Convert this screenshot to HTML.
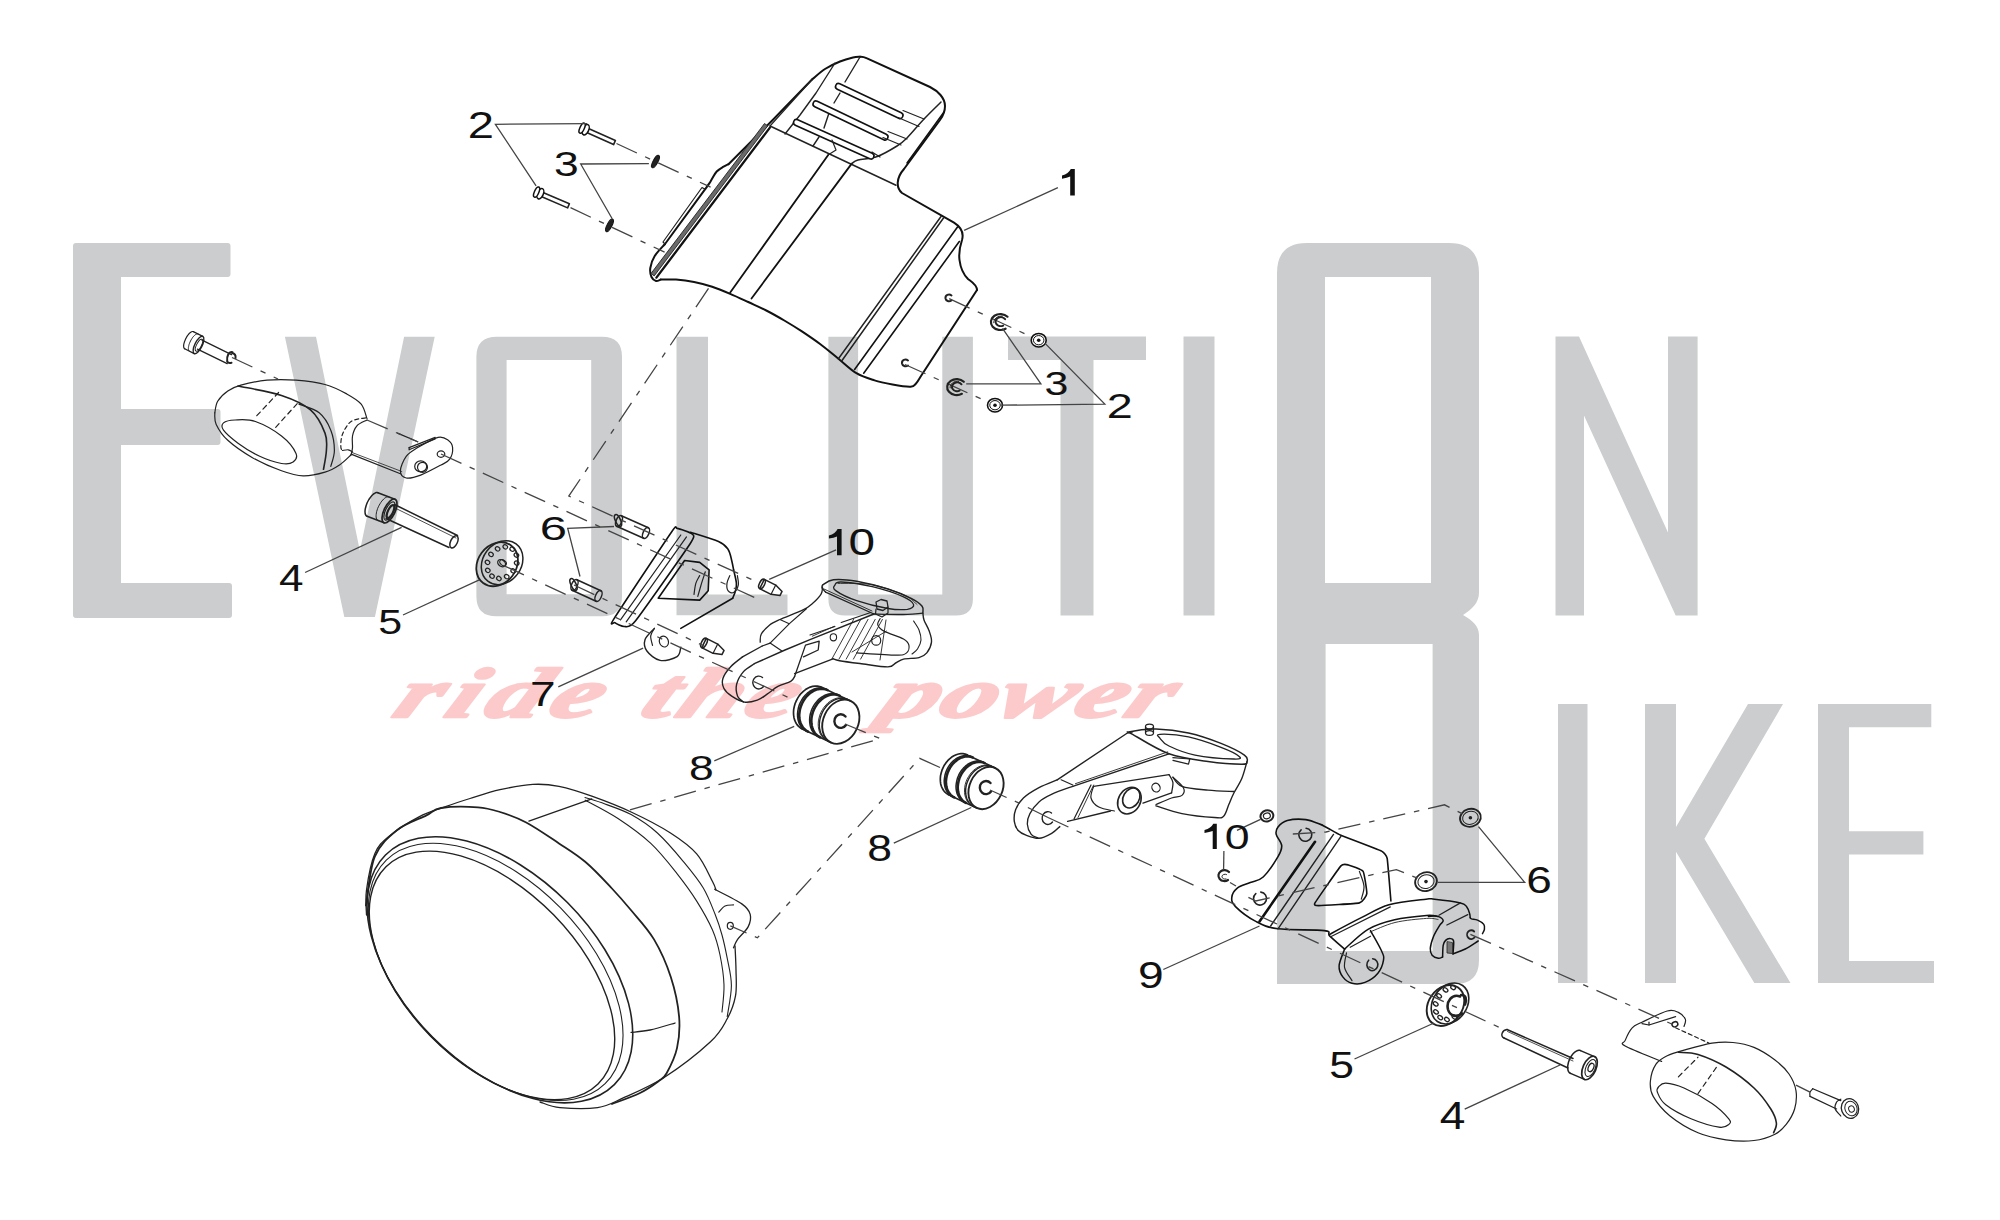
<!DOCTYPE html>
<html><head><meta charset="utf-8"><style>
html,body{margin:0;padding:0;background:#fff;width:2000px;height:1220px;overflow:hidden}
svg{display:block}
.wm{fill:#cbcdce}
.pk{font-family:"Liberation Serif",serif;font-weight:bold;font-style:italic;fill:#fccacb}
.lb{font-family:"Liberation Sans",sans-serif;font-size:36px;fill:#111}
.ln{fill:none;stroke:#111;stroke-width:2;stroke-linejoin:round;stroke-linecap:round}
.th{fill:none;stroke:#222;stroke-width:1.2;stroke-linejoin:round;stroke-linecap:round}
.ld{fill:none;stroke:#444;stroke-width:1.3}
.da{fill:none;stroke:#444;stroke-width:1.3;stroke-dasharray:22.5 9 5.5 9}
.ds{fill:none;stroke:#444;stroke-width:1.3;stroke-dasharray:22.5 9 5.5 9}
.wf{fill:#fff}
</style></head><body>
<svg width="2000" height="1220" viewBox="0 0 2000 1220">
<rect width="2000" height="1220" fill="#fff"/>
<g id="watermark" class="wm">
<!-- E -->
<path d="M73,246 Q73,243 76,243 L227.5,243 Q230.5,243 230.5,246 L230.5,274 Q230.5,277 227.5,277 L121,277 L121,409 L217.5,409 Q220.5,409 220.5,412 L220.5,442 Q220.5,445 217.5,445 L121,445 L121,583 L229,583 Q232,583 232,586 L232,615 Q232,618 229,618 L76,618 Q73,618 73,615 Z"/>
<!-- V -->
<path d="M284.9,336.7 L316,336.7 L359.9,551 L404.1,336.7 L434.7,336.7 L374.9,617.1 L344.3,617.1 Z"/>
<!-- O -->
<path fill-rule="evenodd" d="M497,336.8 L602,336.8 Q622,336.8 622,356.8 L622,596.5 Q622,616.3 602,616.3 L496.5,616.3 Q476.4,616.3 476.4,596.5 L476.4,356.8 Q476.4,336.8 497,336.8 Z M506.6,360 L506.6,594.2 L591.2,594.2 L591.2,360 Z"/>
<!-- L -->
<path d="M676.5,336.7 L708,336.7 L708,594.4 L787.5,594.4 L787.5,615.3 L676.5,615.3 Z"/>
<!-- U -->
<path d="M828.4,336.7 L858.1,336.7 L858.1,594.4 L942.3,594.4 L942.3,336.7 L972.9,336.7 L972.9,599 Q972.9,615.6 956,615.6 L845,615.6 Q828.4,615.6 828.4,599 Z"/>
<!-- T -->
<path d="M1008,336.5 L1146,336.5 L1146,360 L1093.5,360 L1093.5,615.6 L1060.5,615.6 L1060.5,360 L1008,360 Z"/>
<!-- I -->
<rect x="1183.5" y="336.5" width="31" height="279"/>
<!-- B (tall O/B) -->
<path fill-rule="evenodd" d="M1307,243 L1449,243 Q1479,243 1479,273 L1479,592.5 C1479,603 1472,609 1463,615 C1472,620 1479,626 1479,635 L1479,960 Q1479,984 1455,984 L1277,984 L1277,273 Q1277,243 1307,243 Z M1325,277 L1325,583 L1431,583 L1431,277 Z M1325.6,644 L1325.6,951 L1432.6,951 L1432.6,644 Z"/>
<!-- N -->
<path d="M1555.5,336.4 L1579,336.4 L1668,532.5 L1668,336.4 L1697.6,336.4 L1697.6,615.4 L1675.7,615.4 L1584,415.6 L1584,615.4 L1555.5,615.4 Z"/>
<!-- I -->
<rect x="1558" y="704" width="29.5" height="279"/>
<!-- K -->
<path d="M1645,704 L1676,704 L1676,826.9 L1748,704 L1783,704 L1704.4,838.7 L1790.5,983 L1754.3,983 L1676,851.8 L1676,983 L1645,983 Z"/>
<!-- E -->
<path d="M1818,704 L1931.3,704 L1931.3,727.2 L1849,727.2 L1849,831.3 L1923.4,831.3 L1923.4,854.4 L1849,854.4 L1849,961.1 L1934,961.1 L1934,983 L1818,983 Z"/>
</g>
<g class="pk" font-size="86" stroke="#fccacb" stroke-width="3" stroke-linejoin="round"><text transform="translate(390,717) scale(1.3,0.82) skewX(-17)" textLength="157" lengthAdjust="spacing">ride</text><text transform="translate(637,717) scale(1.3,0.82) skewX(-17)" textLength="117" lengthAdjust="spacing">the</text><text transform="translate(876,717) scale(1.3,0.82) skewX(-17)" textLength="222" lengthAdjust="spacing">power</text></g>
<!-- p_fender.FENDER -->
<path class="ln" d="M977,290 L921,376  C920.2,377.2 917.7,381.7 916,383.5 C914.3,385.3 914.5,386.5 910.6,386.7 C906.7,386.9 898.5,385.6 892.5,384.5 C886.5,383.4 880.5,382.3 874.5,380.4 C868.5,378.5 862.4,376.8 856.4,373.2 C850.4,369.6 844.4,363.5 838.4,358.7 C832.4,353.9 826.4,348.8 820.4,344.3 C814.4,339.8 808.3,335.7 802.3,331.7 C796.3,327.7 790.3,324 784.3,320.5 C778.3,317 772.3,313.6 766.3,310.5 C760.3,307.4 754.2,304.8 748.2,302 C742.2,299.2 736.2,296.3 730.2,293.8 C724.2,291.3 718.2,288.8 712.2,286.8 C706.2,284.8 700.1,283.2 694.1,282 C688.1,280.8 681.6,280 676,279.6 C670.4,279.2 663.2,279.6 660.6,279.6" />
<path class="ln" d="M660.6,279.6 C659.8,279.8 657.5,281.4 656,281 C654.5,280.6 652.5,279.2 651.5,277 C650.5,274.8 649.8,271.5 650.3,268 C650.8,264.5 652.2,260 654.7,256 C657.2,252 663.3,246 665,244" />
<path class="ln" d="M665,244 L705,189.3" />
<path class="ln" d="M705,189.3 C705.7,188.3 708.1,185.2 709.3,183.4 C710.5,181.6 711.1,180.3 712.3,178.3 C713.5,176.3 715,173.3 716.7,171.5 C718.4,169.7 720.6,168.4 722.6,167.2 C724.6,166 727.5,164.7 728.5,164.2" />
<path class="ln" d="M728.5,164.2 L772.7,120 L812,79.5" />
<path class="ln" d="M812,79.5 C814.2,77.8 820.3,72 825,69 C829.7,66 835.3,63.4 840,61.5 C844.7,59.6 849.7,58.3 853,57.5 C856.3,56.7 858.8,56.9 860,56.8" />
<path class="ln" d="M860,56.8 C862.5,56.6 864.5,57.2 866.5,58.2 L930,87 C938,91 945,98 945,106 C945,112 943,116 940,120 L904,169 C896,178 896,188 902,193 L954,222.6 C961,227 964,233 962,240 C960,246 958.5,252 959.5,260 C960.5,268 963,274 968,279 C972,282 977,285 977,290" />
<path class="ln" d="M944,112 L907,163" style="stroke-width:1.5"/>
<path d="M764.5,123.5 L767.7,125.9 L654.2,275.9 L651,273.5 Z" fill="#6a6a6a" stroke="#222" stroke-width="0.9"/>
<path class="ln" d="M769.9,127.6 L656.4,277.6" style="stroke-width:2.3"/>
<path class="th" d="M705,189.3 L702,187.5 L663,242 L665,244" />
<path class="th" d="M770,126 L896,185.2" style="stroke-width:1.5"/>
<path class="ln" d="M730.2,292.5 L828.2,155.1" style="stroke-width:1.8"/>
<path class="ln" d="M751.5,298.5 L851.7,163.6" style="stroke-width:1.8"/>
<path class="th" d="M851.7,163.6 C852.8,163 853.8,161.2 858,160 C862.2,158.8 870.7,158.8 877.2,156.5 C883.7,154.2 892,149.1 897,146 C902,142.9 902.5,142.5 907,138 C911.5,133.5 918.3,125 924,119 C929.7,113 938.2,104.8 941,102" style="stroke-width:1.5"/>
<path class="th" d="M860,57 L845,82" style="stroke-width:1.4"/>
<path class="th" d="M840,93 L834,103" style="stroke-width:1.4"/>
<path class="th" d="M829,113 L824,128" style="stroke-width:1.4"/>
<path class="th" d="M819,137 L813,146" style="stroke-width:1.4"/>
<path class="th" d="M835,63 L816,93 L800,115 L785,134" style="stroke-width:1.4"/>
<path class="th" d="M812,79.5 L770,126" style="stroke-width:1.2"/>
<line x1="838.5" y1="86.5" x2="900" y2="115.5" stroke="#111" stroke-width="7.5" stroke-linecap="round"/><line x1="838.5" y1="86.5" x2="900" y2="115.5" stroke="#fff" stroke-width="4.3" stroke-linecap="round"/>
<line x1="816" y1="104" x2="885" y2="137" stroke="#111" stroke-width="7.5" stroke-linecap="round"/><line x1="816" y1="104" x2="885" y2="137" stroke="#fff" stroke-width="4.3" stroke-linecap="round"/>
<line x1="796.5" y1="122.5" x2="871" y2="156" stroke="#111" stroke-width="7.5" stroke-linecap="round"/><line x1="796.5" y1="122.5" x2="871" y2="156" stroke="#fff" stroke-width="4.3" stroke-linecap="round"/>
<path class="th" d="M903,110.5 L924,119" />
<path class="th" d="M898,117.5 L919,126.5" />
<path class="th" d="M888,131.5 L907,139" />
<path class="th" d="M883,137.5 L901,145" />
<path class="th" d="M872,152 L880,157" />
<path class="th" d="M828,155 L836,150 L832,140" />
<path class="th" d="M838.4,358.7 L941.2,216.2" style="stroke-width:1.5"/>
<path class="th" d="M842,360.5 L943.5,218" style="stroke-width:1.5"/>
<path class="ln" d="M854.6,369.5 L957.5,227" style="stroke-width:1.6"/>
<path class="ln" d="M863.7,373.2 L959.3,241.5" style="stroke-width:1.6"/>
<path class="th" d="M951.5,295.5 C949,293.5 945,295 945.5,298.5 C946,301 949,302 951.5,300.5" style="stroke-width:2"/>
<path class="th" d="M908,360.5 C905.5,358.5 901.5,360 902,363.5 C902.5,366 905.5,367 908,365.5" style="stroke-width:2"/>
<!-- p_top.TOP -->
<path class="th" d="M586.655,132.587 L613.586,144.556 L615.414,140.444 L588.483,128.475 Z" fill="#fff" style="stroke-width:1.6"/><ellipse cx="585.7" cy="129.7" rx="3.0" ry="5.5" transform="rotate(24.0 585.7 129.7)" fill="#fff" stroke="#111" stroke-width="1.5"/><ellipse cx="582.1" cy="128.1" rx="2.2" ry="5.5" transform="rotate(24.0 582.1 128.1)" fill="#fff" stroke="#111" stroke-width="1.5"/>
<path class="th" d="M541.208,196.539 L567.613,207.868 L569.387,203.732 L542.982,192.404 Z" fill="#fff" style="stroke-width:1.6"/><ellipse cx="540.3" cy="193.7" rx="3.0" ry="5.5" transform="rotate(23.2 540.3 193.7)" fill="#fff" stroke="#111" stroke-width="1.5"/><ellipse cx="536.6" cy="192.1" rx="2.2" ry="5.5" transform="rotate(23.2 536.6 192.1)" fill="#fff" stroke="#111" stroke-width="1.5"/>
<ellipse cx="655.5" cy="161.5" rx="7" ry="2.4" transform="rotate(-62 655.5 161.5)" fill="#222" stroke="#111" stroke-width="1"/>
<ellipse cx="609.5" cy="225.3" rx="7" ry="2.4" transform="rotate(-62 609.5 225.3)" fill="#222" stroke="#111" stroke-width="1"/>
<path class="ds" d="M616.5,143.5 L710.6,187.2" />
<path class="ds" d="M570.5,207.6 L664.6,252.2" />
<path class="ld" d="M587.2,123.6 L495.4,124.3 L536.1,185.9" />
<path class="ld" d="M648.9,163.6 L580.7,164 L612.2,218.7" />
<path class="ds" d="M949.2,298.6 L1038.7,340.2" />
<path class="ds" d="M905,364.5 L995,405.2" />
<path class="th" d="M1007.5,316.7 A9.5,8 0 1 0 1005.6,328.7" style="stroke-width:2.2"/><path class="th" d="M1005.1,319.2 A5.2250000000000005,4.4 0 1 0 1003.2,325.6" style="stroke-width:2"/><path class="th" d="M993.8,322.8 A7.125,6.0 0 0 1 1002.3,316.2" style="stroke-width:1"/>
<path class="th" d="M963.8,381.8 A9.5,8 0 1 0 961.9,393.8" style="stroke-width:2.2"/><path class="th" d="M961.5,384.3 A5.2250000000000005,4.4 0 1 0 959.6,390.7" style="stroke-width:2"/><path class="th" d="M950.1,387.9 A7.125,6.0 0 0 1 958.6,381.3" style="stroke-width:1"/>
<ellipse cx="1038.7" cy="340.2" rx="7.5" ry="6.75" fill="#fff" stroke="#111" stroke-width="1.6"/><ellipse cx="1038.7" cy="340.2" rx="5.25" ry="4.65" fill="none" stroke="#111" stroke-width="1"/><circle cx="1038.7" cy="340.2" r="1.8" fill="#111"/>
<ellipse cx="995" cy="405.2" rx="7.5" ry="6.75" fill="#fff" stroke="#111" stroke-width="1.6"/><ellipse cx="995" cy="405.2" rx="5.25" ry="4.65" fill="none" stroke="#111" stroke-width="1"/><circle cx="995" cy="405.2" r="1.8" fill="#111"/>
<path class="ld" d="M1002.5,328.4 L1040.9,383.9 L966.2,383.9" />
<path class="ld" d="M1045.1,343.4 L1104.8,404.1 L1000.4,405.2" />
<path class="ld" d="M1057.9,187.7 L964.1,230.4" />
<!-- p_left.LEFT -->
<path class="th" d="M214.8,412.8 C215.3,410.9 215.5,404.8 217.7,401.2 C219.9,397.6 223.9,393.7 227.8,391 C231.7,388.3 234.4,387 240.9,385.2 C247.4,383.4 257.8,381 267,380.2 C276.2,379.4 286.3,379.5 296,380.2 C305.7,380.9 316.6,382.2 325,384.5 C333.4,386.8 340.7,390.6 346.7,393.9 C352.7,397.2 357.8,400 361.2,404.1 C364.6,408.2 366,416.2 367,418.6" />
<path class="th" d="M351.1,454.8 C349.2,456.5 343.9,462.1 339.5,465 C335.1,467.9 331.1,470.4 325,472.2 C318.9,474 310.4,476.1 303.2,475.9 C295.9,475.7 289.9,473.8 281.5,470.8 C273.1,467.8 261.4,462.8 252.5,457.7 C243.6,452.6 233.9,445.9 227.8,440.3 C221.8,434.8 218.4,429 216.2,424.4 C214,419.8 215,414.7 214.8,412.8" />
<path class="th" d="M397.5,433.1 L417.8,441.8" />
<path class="th" d="M351.1,454.1 L400.4,473.7" />
<path class="th" d="M352.5,452.7 L401.8,471.5" style="stroke-width:0.8"/>
<path class="th" d="M367,420 C365.3,421 359.3,423.1 356.9,425.8 C354.5,428.5 353.2,432.4 352.5,436 C351.8,439.6 352.7,444.5 352.5,447.6 C352.3,450.7 351.3,453.6 351.1,454.8" />
<path class="th" d="M365.6,417.9 C363.2,418.5 355,418.7 351.1,421.5 C347.2,424.3 344.1,430.1 342.4,434.5 C340.7,438.9 340.7,444.9 340.9,447.6 C341.1,450.3 343.3,450 343.8,450.5" style="stroke-dasharray:4 3"/>
<path class="th" d="M342.4,450.5 C343.4,450.4 346.5,449.6 348.2,449.8 C349.9,450 351.8,451.5 352.5,451.9" />
<path class="th" d="M223.5,422.9 C225.4,421.2 229.8,420.2 235.1,420 C240.4,419.8 247.7,418.8 255.4,421.5 C263.1,424.2 274.7,430.7 281.5,436 C288.3,441.3 294.1,449 296,453.4 C297.9,457.8 295.5,460.4 293.1,462.1 C290.7,463.8 287.1,464.5 281.5,463.5 C275.9,462.5 266.9,459.7 259.7,456.3 C252.4,452.9 244,447.6 238,443.2 C232,438.8 225.9,433.6 223.5,430.2 C221.1,426.8 221.6,424.6 223.5,422.9 Z" />
<path class="th" d="M238,386 C245.2,387.6 269.4,391.4 281.5,395.4 C293.6,399.4 303.2,403.6 310.5,409.9 C317.8,416.2 322.4,426.3 325,433.1 C327.6,439.9 326.6,444.5 326.4,450.5 C326.1,456.5 324,466.2 323.5,469.3" style="stroke-width:1.6"/>
<path class="th" d="M298.9,404.1 C302.3,405.6 313.9,408.5 319.2,412.8 C324.5,417.1 328.3,423.9 330.8,430.2 C333.3,436.5 334.4,444.5 334.4,450.5 C334.4,456.5 331.4,463.8 330.8,466.4" />
<path class="th" d="M256.8,415.7 L278.6,392.5" style="stroke-dasharray:5 4"/>
<path class="th" d="M275.7,427.3 L297.4,403.4" style="stroke-dasharray:5 4"/>
<path class="th" d="M400.4,470.8 C400.4,467.2 403.3,460.2 406.2,456.3 C409.1,452.4 412.5,450.8 417.8,447.6 C423.1,444.5 433,438.6 438.1,437.4 C443.2,436.2 445.8,438.6 448.2,440.3 C450.6,442 452.4,444.5 452.6,447.6 C452.9,450.8 451.6,456.3 449.7,459.2 C447.8,462.1 445.8,462.4 441,465 C436.2,467.6 426.5,472.9 420.7,475.1 C414.9,477.3 409.6,478.7 406.2,478 C402.8,477.3 400.4,474.4 400.4,470.8 Z" />
<path class="th" d="M409.1,447.6 L409.1,449.8 L435.2,438.9" />
<path class="th" d="M409.1,447.6 L435.2,437.4" />
<ellipse cx="420.7" cy="466.4" rx="6" ry="5.5" class="th"/>
<ellipse cx="422.5" cy="467.3" rx="5" ry="5" class="th"/>
<ellipse cx="441" cy="454.1" rx="3.8" ry="3.2" class="th"/>
<path class="th" d="M189.4,351.2 L189.1,350.9 L188.8,350.5 L188.5,349.9 L188.4,349.2 L188.4,348.4 L188.4,347.5 L188.6,346.5 L188.8,345.5 L189.1,344.4 L189.5,343.3 L190,342.1 L190.5,341 L191.1,339.9 L191.8,338.8 L192.4,337.8 L193.1,336.9 L193.8,336.1 L194.5,335.4 L195.2,334.8 L195.9,334.4 L196.5,334.1 L197.1,333.9 L197.6,333.9 L198.1,334" style="stroke-width:1.0"/><path class="th" d="M184.7,348.8 L184.3,348.5 L184,348.1 L183.8,347.5 L183.7,346.8 L183.6,346 L183.7,345.1 L183.8,344.1 L184.1,343.1 L184.4,342 L184.8,340.9 L185.3,339.7 L185.8,338.6 L186.4,337.5 L187,336.4 L187.7,335.4 L188.4,334.5 L189.1,333.7 L189.8,333 L190.5,332.4 L191.1,332 L191.7,331.7 L192.3,331.5 L192.8,331.5 L193.3,331.6" style="stroke-width:1.2"/><path class="th" d="M194.2,353.6 L184.7,348.8 M202.8,336.4 L193.3,331.6" style="stroke-width:1.2"/><ellipse class="th" cx="198.5" cy="345.0" rx="3.6" ry="9.6" transform="rotate(26.6 198.5 345.0)" style="stroke-width:1.4"/>
<ellipse class="th" cx="199.0" cy="345.2" rx="2.4" ry="6.6" transform="rotate(26.6 199.0 345.2)" style="stroke-width:1.0"/>
<path class="th" d="M202,340.2 L231.5,354.6" style="stroke-width:1.3"/>
<path class="th" d="M197.5,349.2 L227.2,363.6" style="stroke-width:1.3"/>
<path class="th" d="M232.5,352.2 C229,351 226.5,356 227.2,361.5 C228,363 230,363.2 231.5,362.8" style="stroke-width:2"/>
<path class="th" d="M232,353 C235,353.5 235.8,356 235.5,358" style="stroke-width:2"/>
<!-- p_center.CENTER -->
<path class="th" d="M378.1,520.5 L377.5,520.2 L377,519.6 L376.6,518.9 L376.3,518 L376.1,516.9 L376.1,515.7 L376.2,514.4 L376.4,512.9 L376.7,511.4 L377.2,509.9 L377.7,508.3 L378.4,506.8 L379.2,505.2 L380,503.8 L380.9,502.4 L381.8,501.1 L382.8,500 L383.7,499 L384.7,498.2 L385.7,497.5 L386.6,497.1 L387.5,496.8 L388.3,496.8 L389,496.9" style="stroke-width:1.0"/><path class="th" d="M367.1,516.3 L366.4,515.9 L365.9,515.4 L365.5,514.7 L365.2,513.7 L365.1,512.7 L365,511.5 L365.1,510.1 L365.3,508.7 L365.7,507.2 L366.1,505.7 L366.7,504.1 L367.3,502.5 L368.1,501 L368.9,499.5 L369.8,498.2 L370.8,496.9 L371.7,495.7 L372.7,494.8 L373.7,493.9 L374.6,493.3 L375.5,492.8 L376.4,492.6 L377.2,492.5 L377.9,492.7" style="stroke-width:1.5"/><path class="th" d="M384.1,522.8 L367.1,516.3 M394.9,499.2 L377.9,492.7" style="stroke-width:1.5"/><ellipse class="th" cx="389.5" cy="511.0" rx="5.5" ry="13.0" transform="rotate(25.5 389.5 511.0)" style="stroke-width:1.7"/>
<ellipse class="th" cx="389.5" cy="511.0" rx="4.0" ry="10.0" transform="rotate(25.5 389.5 511.0)" style="stroke-width:1.2"/>
<ellipse class="th" cx="390.5" cy="511.5" rx="2.6" ry="7.0" transform="rotate(25.5 390.5 511.5)" style="stroke-width:2.2"/>
<path class="th" d="M394.5,504.5 L457.5,535.5" style="stroke-width:1.5"/>
<path class="th" d="M394,507.5 L456,538" style="stroke-width:0.8"/>
<path class="th" d="M386,518.5 L449,547.5" style="stroke-width:1.4"/>
<ellipse class="th" cx="454.0" cy="541.8" rx="3.4" ry="6.6" transform="rotate(25.5 454.0 541.8)" style="stroke-width:1.5"/>
<ellipse class="th" cx="497.1" cy="564.2" rx="23.4" ry="19.2" transform="rotate(-53.3 497.1 564.2)" style="stroke-width:1.8"/>
<ellipse class="th" cx="502.1" cy="562.7" rx="23.4" ry="19.2" transform="rotate(-53.3 502.1 562.7)" style="stroke-width:1.5" fill="#fff"/>
<ellipse class="th" cx="512.2" cy="549.2" rx="2.0" ry="2.4" transform="rotate(-53.3 512.2 549.2)" style="stroke-width:1.2"/>
<ellipse class="th" cx="516.4" cy="555.1" rx="2.0" ry="2.4" transform="rotate(-53.3 516.4 555.1)" style="stroke-width:1.2"/>
<ellipse class="th" cx="516.7" cy="563.1" rx="2.0" ry="2.4" transform="rotate(-53.3 516.7 563.1)" style="stroke-width:1.2"/>
<ellipse class="th" cx="513.2" cy="571.0" rx="2.0" ry="2.4" transform="rotate(-53.3 513.2 571.0)" style="stroke-width:1.2"/>
<ellipse class="th" cx="506.7" cy="576.6" rx="2.0" ry="2.4" transform="rotate(-53.3 506.7 576.6)" style="stroke-width:1.2"/>
<ellipse class="th" cx="498.9" cy="578.5" rx="2.0" ry="2.4" transform="rotate(-53.3 498.9 578.5)" style="stroke-width:1.2"/>
<ellipse class="th" cx="492.0" cy="576.2" rx="2.0" ry="2.4" transform="rotate(-53.3 492.0 576.2)" style="stroke-width:1.2"/>
<ellipse class="th" cx="487.8" cy="570.3" rx="2.0" ry="2.4" transform="rotate(-53.3 487.8 570.3)" style="stroke-width:1.2"/>
<ellipse class="th" cx="487.5" cy="562.3" rx="2.0" ry="2.4" transform="rotate(-53.3 487.5 562.3)" style="stroke-width:1.2"/>
<ellipse class="th" cx="491.0" cy="554.4" rx="2.0" ry="2.4" transform="rotate(-53.3 491.0 554.4)" style="stroke-width:1.2"/>
<ellipse class="th" cx="497.6" cy="548.8" rx="2.0" ry="2.4" transform="rotate(-53.3 497.6 548.8)" style="stroke-width:1.2"/>
<ellipse class="th" cx="505.3" cy="546.8" rx="2.0" ry="2.4" transform="rotate(-53.3 505.3 546.8)" style="stroke-width:1.2"/>
<ellipse class="th" cx="501.6" cy="563.2" rx="3.2" ry="4.2" transform="rotate(-53.3 501.6 563.2)" style="stroke-width:1.3"/>
<ellipse class="th" cx="503.1" cy="562.7" rx="2.6" ry="3.6" transform="rotate(-53.3 503.1 562.7)" style="stroke-width:1"/>
<ellipse class="th" cx="619.0" cy="521.0" rx="5.8" ry="2.9" transform="rotate(114.0 619.0 521.0)" style="stroke-width:1.5"/><path class="th" d="M616.644,526.3 L643.644,538.3 M621.356,515.7 L648.356,527.7" style="stroke-width:1.5"/><ellipse class="th" cx="646.0" cy="533.0" rx="5.8" ry="2.9" transform="rotate(114.0 646.0 533.0)" style="stroke-width:1.5"/>
<ellipse class="th" cx="618.0" cy="520.5" rx="2.5" ry="6.4" transform="rotate(-25.0 618.0 520.5)" style="stroke-width:1.6"/>
<ellipse class="th" cx="574.5" cy="585.0" rx="5.8" ry="2.9" transform="rotate(114.6 574.5 585.0)" style="stroke-width:1.5"/><path class="th" d="M572.083,590.273 L596.083,601.273 M576.917,579.727 L600.917,590.727" style="stroke-width:1.5"/><ellipse class="th" cx="598.5" cy="596.0" rx="5.8" ry="2.9" transform="rotate(114.6 598.5 596.0)" style="stroke-width:1.5"/>
<ellipse class="th" cx="573.5" cy="584.5" rx="2.5" ry="6.4" transform="rotate(-25.0 573.5 584.5)" style="stroke-width:1.6"/>
<path class="th" d="M759.674,588.651 L771.074,594.351 L779.954,595.593 L782.046,591.407 L775.726,585.049 L764.326,579.349 Z" style="stroke-width:1.5"/><ellipse class="th" cx="762.0" cy="584.0" rx="5.2" ry="2.6" transform="rotate(116.6 762.0 584.0)" style="stroke-width:1.5"/><path class="th" d="M771.074,594.351 L775.726,585.049"/>
<path class="th" d="M701.674,647.651 L713.074,653.351 L721.954,654.593 L724.046,650.407 L717.726,644.049 L706.326,638.349 Z" style="stroke-width:1.5"/><ellipse class="th" cx="704.0" cy="643.0" rx="5.2" ry="2.6" transform="rotate(116.6 704.0 643.0)" style="stroke-width:1.5"/><path class="th" d="M713.074,653.351 L717.726,644.049"/>
<path class="ln" d="M677.1,528.4 C679.2,528.6 690.8,532.6 692.1,534.1 C693.4,535.6 695.9,534.8 690.3,543.5 C684.6,552.2 642.2,612.5 635.6,620.8 C629,629.1 626.4,626.3 624.3,626.5 C622.2,626.7 615.8,623.5 614.8,622.7 C613.8,621.9 608.2,627.9 613.9,618.9 C619.6,609.9 665.1,541.2 671.4,532.2 C677.7,523.2 675,528.2 677.1,528.4 Z" style="stroke-width:1.6"/>
<path class="th" d="M680.8,535 L620.5,619.9" />
<path class="th" d="M686.5,536.9 L626.2,621.8" />
<path class="ln" d="M690.3,532.2 C695,533.8 712.2,538.8 718.5,541.6 C724.8,544.4 725.8,546.1 728,549.2 C730.2,552.4 730.8,557 731.7,560.5 C732.6,564 733.3,568.3 733.6,569.9" style="stroke-width:1.6"/>
<path class="ln" d="M733.6,569.9 C734.1,572.1 736.1,579.6 736.4,583.1 C736.7,586.6 736.1,588.2 735.5,590.7 C734.9,593.2 733.2,597 732.7,598.2" style="stroke-width:1.6"/>
<path class="ln" d="M732.7,598.2 L680.8,628.4" style="stroke-width:1.6"/>
<path class="th" d="M729.8,575.6 C729.3,576.9 727.3,580.6 727,583.1 C726.7,585.6 726.9,589.1 728,590.7 C729.1,592.3 731.9,593.5 733.6,592.5 C735.3,591.5 737.7,587.8 738.3,585 C738.9,582.2 737.5,577.2 737.4,575.6" />
<path class="ln" d="M684.6,560.5 L658.2,598.2 L699.7,600.1 L708.2,590.7 L709.1,569.9 L699.7,562.4 Z" style="stroke-width:1.6"/>
<path class="th" d="M699.7,575.6 C699.1,576.9 696.9,580 695.9,583.1 C694.9,586.2 694.3,592.5 694,594.4" />
<path class="th" d="M705.3,571.8 C704.7,573.7 702.9,579 701.6,583.1 C700.4,587.2 698.4,594.1 697.8,596.3" />
<path class="th" d="M654.4,628.4 C652.8,630.3 646.2,635.9 645,639.7 C643.8,643.5 644.4,647.5 646.9,651 C649.4,654.5 655.1,659.4 660.1,660.4 C665.1,661.4 673.7,658.9 677.1,656.7 C680.5,654.5 680.2,648.8 680.8,647.2" style="stroke-width:1.4"/>
<path class="th" d="M654.4,628.4 C653.8,629.6 651,633.1 650.7,635.9 C650.4,638.7 652.2,643.7 652.5,645.3" />
<ellipse class="th" cx="663.9" cy="641.6" rx="4.5" ry="5.5" transform="rotate(-20.0 663.9 641.6)" />
<!-- p_clamps.CLAMPS -->
<path class="th" d="M742.5,656.9 C740.5,658.5 734,663.1 730.7,666.7 C727.4,670.3 724,674.9 722.9,678.5 C721.8,682.1 722.3,685.3 723.8,688.3 C725.3,691.2 728.2,693.9 731.7,696.2 C735.2,698.5 740.2,701.5 744.5,702.1 C748.8,702.8 753.5,701.4 757.3,700.1 C761.1,698.8 763.7,696.5 767.1,694.2 C770.5,691.9 774,688.5 777.9,686.4 C781.8,684.3 787.9,683 790.7,681.4 C793.5,679.8 794,677.3 794.6,676.5" style="stroke-width:1.4"/>
<path class="th" d="M754.3,663.7 C752.5,665 746.5,668.2 743.5,671.6 C740.5,675 737.6,680.3 736.6,684.4 C735.6,688.5 736.5,693.2 737.6,696.2 C738.8,699.2 742.5,701.1 743.5,702.1" style="stroke-width:1.4"/>
<path class="th" d="M762.5,677.5 A6,6.4 0 1 0 763.5,686.5" style="stroke-width:1.4"/>
<path class="th" d="M742.5,656.9 L762.2,646" style="stroke-width:1.3"/>
<path class="th" d="M754.3,663.7 L785,650 L810,639.6 L873.9,614" style="stroke-width:1.4"/>
<path class="th" d="M762.2,646 L770.1,643.1" style="stroke-width:1.3"/>
<path class="th" d="M770.1,643.1 L781.9,651" style="stroke-width:1.2"/>
<path class="th" d="M810,635 L834.9,626.4" style="stroke-width:1.1"/>
<path class="th" d="M841.2,622.5 L870.7,612.4" style="stroke-width:1.1"/>
<path class="th" d="M812.3,636.2 L834,626.4" style="stroke-width:0.9"/>
<path class="th" d="M760.2,642.1 C760.4,640.8 759.7,637 761.2,634.2 C762.7,631.4 766,627.9 769.1,625.4 C772.2,622.9 774.2,622.1 779.9,619.5 C785.6,616.9 797.9,612.5 803.5,609.7 C809.1,606.9 810.3,605.4 813.3,602.8 C816.2,600.2 819.7,596.5 821.2,593.9 C822.7,591.3 822.3,588.1 822.5,587" style="stroke-width:1.3"/>
<path class="th" d="M770.1,643.1 L789.7,623.4 L806.4,608.7" style="stroke-width:1.2"/>
<path class="th" d="M779.9,619.5 L788.7,623.4" style="stroke-width:1.1"/>
<path class="th" d="M794.6,676.5 L805.5,645.1 L819.2,641.1 L818.2,650 L803.5,656.9" style="stroke-width:1.3"/>
<path class="th" d="M794.6,673.6 L833,658.8" style="stroke-width:1.4"/>
<path class="th" d="M822.5,585.1 C824.3,584.2 827.7,580.4 833.4,579.7 C839.1,579.1 847.6,579.7 856.7,581.2 C865.8,582.8 878.8,586.1 887.9,589 C897,591.9 905.5,595.5 911.2,598.4 C916.9,601.3 920.2,603.9 922.1,606.2 C924,608.5 922.8,611.4 922.9,612.4" style="stroke-width:1.5"/>
<path class="th" d="M822.5,585.1 C822.4,585.6 821.5,586.8 822,588 C822.5,589.2 825,591.4 825.6,592.1" style="stroke-width:1.3"/>
<path class="th" d="M825.6,592.1 L873.9,614" style="stroke-width:1.3"/>
<path class="th" d="M823.5,588.8 L872,611" style="stroke-width:0.9"/>
<path class="th" d="M873.9,614 C878.2,614.1 891.8,614.6 900,614.5 C908.2,614.4 919.1,613.4 922.9,613.2" style="stroke-width:1.3"/>
<path class="th" d="M834.9,585.1 C835.8,583.7 835,581.7 841.2,582 C847.4,582.3 861.9,584.2 872.3,586.7 C882.7,589.2 896.6,593.8 903.5,596.8 C910.4,599.8 913,602.5 913.6,604.6 C914.2,606.7 911.7,608.6 907.4,609.3 C903.1,609.9 896.3,609.9 887.9,608.5 C879.5,607.1 865.4,603.7 856.7,600.7 C848,597.7 839.3,593.2 835.7,590.6 C832.1,588 834,586.5 834.9,585.1 Z" style="stroke-width:1.3"/>
<path class="th" d="M838,583.5 C843.7,583.7 861.1,582.7 872.3,584.7 C883.5,586.7 897.5,592.2 905,595.5 C912.5,598.8 915,603.1 917,604.6" style="stroke-width:0.8"/>
<path class="th" d="M876,602 L881,599.5 L887,601 L888,607 L883,610.5 L877,609 Z" style="stroke-width:1.3"/>
<path class="th" d="M876,609 L875.5,614 L882,617 L888,613 L888,607" style="stroke-width:1.2"/>
<path class="th" d="M922.9,613.2 C923.1,614.3 923,617 924,620 C925,623 928,627.4 929.2,631.1 C930.5,634.8 931.9,638.4 931.5,642 C931.1,645.6 928.9,650.3 926.8,652.9 C924.7,655.5 922.9,656.6 919,657.6 C915.1,658.6 907.4,658.2 903.5,659.1 C899.6,660 898.3,661.7 895.7,663 C893.1,664.3 893.9,666.8 887.9,666.9 C881.9,667 868,664.5 860,663.5 C852,662.5 844.1,661.5 839.6,660.7 C835.1,659.9 834.1,659.1 833,658.8" style="stroke-width:1.4"/>
<path class="th" d="M880.1,618.6 C879.7,619.6 877.1,622.7 877.8,624.8 C878.4,626.9 879.7,628.8 884,631.1 C888.3,633.5 899.4,636.6 903.5,638.9 C907.6,641.2 908.4,642.8 908.9,645.1 C909.4,647.4 908.8,651.2 906.6,652.9 C904.4,654.6 904,655.2 895.7,655.2 C887.4,655.2 863.2,653.3 856.7,652.9" style="stroke-width:1.2"/>
<path class="th" d="M913.6,621 C914.5,622.5 917.8,626.8 919,630 C920.2,633.2 921.2,636.8 921,640 C920.8,643.2 919,646.7 917.5,649 C916,651.3 912.9,653.2 912,654" style="stroke-width:1.1"/>
<path class="th" d="M852,652 L886.3,631.1" style="stroke-width:0.9"/>
<path class="th" d="M886,620 L880,660" style="stroke-width:0.9"/>
<path class="th" d="M853.6,619.4 L831.8,659.1" style="stroke-width:0.9"/>
<path class="th" d="M860.8,619.4 L839,659.1" style="stroke-width:0.9"/>
<path class="th" d="M868,619.4 L846.2,659.1" style="stroke-width:0.9"/>
<path class="th" d="M875.2,619.4 L853.4,659.1" style="stroke-width:0.9"/>
<path class="th" d="M882.4,619.4 L860.6,659.1" style="stroke-width:0.9"/>
<ellipse class="th" cx="833.4" cy="637.3" rx="3.2" ry="3.6" transform="rotate(0.0 833.4 637.3)" style="stroke-width:1.1"/>
<ellipse class="th" cx="876.2" cy="640.4" rx="4.5" ry="4.8" transform="rotate(0.0 876.2 640.4)" style="stroke-width:1.2"/>
<path class="th" d="M828.2,741.2 L826.2,740 L824.4,738.5 L822.9,736.7 L821.6,734.7 L820.5,732.3 L819.8,729.8 L819.4,727.1 L819.3,724.3 L819.6,721.4 L820.1,718.5 L821,715.7 L822.1,712.9 L823.5,710.2 L825.2,707.8 L827,705.5 L829.1,703.5 L831.3,701.8 L833.6,700.4 L836,699.3 L838.5,698.6 L840.9,698.3 L843.3,698.3 L845.5,698.7 L847.7,699.5" style="stroke-width:1.4"/><path class="th" d="M827,740.6 L825,739.5 L823.3,738 L821.7,736.2 L820.4,734.1 L819.4,731.8 L818.7,729.3 L818.3,726.6 L818.2,723.8 L818.4,720.9 L819,718 L819.8,715.1 L820.9,712.4 L822.4,709.7 L824,707.2 L825.9,705 L827.9,702.9 L830.2,701.2 L832.5,699.8 L834.9,698.8 L837.3,698 L839.7,697.7 L842.1,697.8 L844.4,698.2 L846.5,699" style="stroke-width:0.9"/><path class="th" d="M820.1,737.4 L818.2,736.2 L816.4,734.8 L814.8,733 L813.5,730.9 L812.5,728.6 L811.8,726 L811.4,723.3 L811.3,720.5 L811.5,717.7 L812.1,714.8 L812.9,711.9 L814.1,709.1 L815.5,706.5 L817.1,704 L819,701.7 L821.1,699.7 L823.3,698 L825.6,696.6 L828,695.5 L830.4,694.8 L832.9,694.5 L835.2,694.5 L837.5,694.9 L839.7,695.7" style="stroke-width:2.6"/><path class="th" d="M818.4,736.6 L816.4,735.4 L814.6,733.9 L813.1,732.2 L811.8,730.1 L810.8,727.7 L810.1,725.2 L809.7,722.5 L809.6,719.7 L809.8,716.8 L810.3,714 L811.2,711.1 L812.3,708.3 L813.7,705.7 L815.4,703.2 L817.3,700.9 L819.3,698.9 L821.6,697.2 L823.9,695.8 L826.3,694.7 L828.7,694 L831.1,693.7 L833.5,693.7 L835.8,694.1 L837.9,694.9" style="stroke-width:1.5"/><path class="th" d="M808.1,731.7 L806.1,730.6 L804.3,729.1 L802.8,727.3 L801.5,725.2 L800.5,722.9 L799.7,720.4 L799.3,717.7 L799.2,714.9 L799.5,712 L800,709.1 L800.9,706.2 L802,703.5 L803.4,700.8 L805.1,698.3 L806.9,696 L809,694 L811.2,692.3 L813.5,690.9 L815.9,689.8 L818.4,689.1 L820.8,688.8 L823.2,688.9 L825.5,689.3 L827.6,690.1" style="stroke-width:2.6"/><path class="th" d="M806.4,730.9 L804.4,729.8 L802.6,728.3 L801,726.5 L799.7,724.4 L798.7,722.1 L798,719.5 L797.6,716.9 L797.5,714.1 L797.8,711.2 L798.3,708.3 L799.1,705.4 L800.3,702.6 L801.7,700 L803.3,697.5 L805.2,695.2 L807.3,693.2 L809.5,691.5 L811.8,690.1 L814.2,689 L816.7,688.3 L819.1,688 L821.4,688 L823.7,688.5 L825.9,689.3" style="stroke-width:1.5"/><path class="th" d="M802.3,729 L800.4,727.9 L798.6,726.4 L797,724.6 L795.7,722.5 L794.7,720.2 L794,717.7 L793.6,715 L793.5,712.2 L793.7,709.3 L794.3,706.4 L795.1,703.5 L796.3,700.8 L797.7,698.1 L799.3,695.6 L801.2,693.3 L803.3,691.3 L805.5,689.6 L807.8,688.2 L810.2,687.1 L812.6,686.4 L815.1,686.1 L817.4,686.2 L819.7,686.6 L821.9,687.4" style="stroke-width:1.7"/><path class="th" d="M831.0,742.5 L802.3,729.0 M850.6,700.9 L821.9,687.4" style="stroke-width:1.7"/><ellipse class="th" cx="840.8" cy="721.7" rx="17.5" ry="23.0" transform="rotate(25.0 840.8 721.7)" style="stroke-width:1.9"/>
<path class="th" d="M845.5,716.5 A6.4,6.8 0 1 0 846,725" style="stroke-width:2.4"/>
<path class="th" d="M973.9,806.6 L972,805.5 L970.3,804.1 L968.9,802.4 L967.6,800.4 L966.7,798.2 L966,795.8 L965.7,793.2 L965.6,790.6 L965.8,787.8 L966.3,785.1 L967.2,782.3 L968.3,779.7 L969.6,777.1 L971.2,774.7 L973,772.6 L974.9,770.6 L977,769 L979.2,767.6 L981.5,766.6 L983.8,765.9 L986.1,765.6 L988.3,765.6 L990.5,766 L992.5,766.8" style="stroke-width:1.4"/><path class="th" d="M972.7,806.1 L970.9,805 L969.2,803.6 L967.7,801.9 L966.5,799.9 L965.6,797.7 L964.9,795.3 L964.5,792.7 L964.5,790 L964.7,787.3 L965.2,784.5 L966,781.8 L967.1,779.1 L968.5,776.6 L970.1,774.2 L971.8,772 L973.8,770.1 L975.9,768.5 L978.1,767.1 L980.4,766.1 L982.7,765.4 L985,765.1 L987.2,765.1 L989.4,765.5 L991.4,766.2" style="stroke-width:0.9"/><path class="th" d="M966,802.9 L964.1,801.8 L962.4,800.4 L961,798.7 L959.8,796.7 L958.8,794.5 L958.2,792.1 L957.8,789.5 L957.7,786.9 L958,784.1 L958.5,781.4 L959.3,778.6 L960.4,776 L961.7,773.4 L963.3,771.1 L965.1,768.9 L967.1,766.9 L969.2,765.3 L971.4,763.9 L973.6,762.9 L975.9,762.2 L978.2,761.9 L980.5,761.9 L982.6,762.3 L984.7,763.1" style="stroke-width:2.6"/><path class="th" d="M964.3,802.1 L962.4,801 L960.8,799.6 L959.3,797.9 L958.1,795.9 L957.1,793.7 L956.5,791.3 L956.1,788.8 L956,786.1 L956.3,783.3 L956.8,780.6 L957.6,777.8 L958.7,775.2 L960,772.6 L961.6,770.3 L963.4,768.1 L965.4,766.2 L967.5,764.5 L969.7,763.1 L971.9,762.1 L974.2,761.4 L976.5,761.1 L978.8,761.1 L980.9,761.5 L983,762.3" style="stroke-width:1.5"/><path class="th" d="M954.2,797.4 L952.3,796.3 L950.6,794.9 L949.2,793.2 L948,791.2 L947,789 L946.4,786.6 L946,784 L945.9,781.3 L946.2,778.6 L946.7,775.8 L947.5,773.1 L948.6,770.4 L949.9,767.9 L951.5,765.5 L953.3,763.3 L955.3,761.4 L957.4,759.7 L959.6,758.4 L961.8,757.4 L964.1,756.7 L966.4,756.3 L968.7,756.4 L970.8,756.8 L972.8,757.5" style="stroke-width:2.6"/><path class="th" d="M952.5,796.6 L950.6,795.5 L949,794.1 L947.5,792.4 L946.3,790.4 L945.3,788.2 L944.7,785.8 L944.3,783.2 L944.2,780.5 L944.5,777.8 L945,775 L945.8,772.3 L946.9,769.6 L948.2,767.1 L949.8,764.7 L951.6,762.5 L953.6,760.6 L955.7,759 L957.9,757.6 L960.1,756.6 L962.4,755.9 L964.7,755.6 L967,755.6 L969.1,756 L971.2,756.7" style="stroke-width:1.5"/><path class="th" d="M948.6,794.7 L946.7,793.6 L945,792.2 L943.6,790.5 L942.4,788.5 L941.4,786.3 L940.7,783.9 L940.4,781.4 L940.3,778.7 L940.5,775.9 L941.1,773.2 L941.9,770.4 L943,767.8 L944.3,765.2 L945.9,762.9 L947.7,760.7 L949.6,758.8 L951.7,757.1 L953.9,755.8 L956.2,754.7 L958.5,754 L960.8,753.7 L963,753.7 L965.2,754.1 L967.2,754.9" style="stroke-width:1.7"/><path class="th" d="M976.7,807.9 L948.6,794.7 M995.3,768.1 L967.2,754.9" style="stroke-width:1.7"/><ellipse class="th" cx="986.0" cy="788.0" rx="16.5" ry="22.0" transform="rotate(25.0 986.0 788.0)" style="stroke-width:1.9"/>
<path class="th" d="M990.5,783 A6.2,6.6 0 1 0 991,791.5" style="stroke-width:2.4"/>
<path class="th" d="M1057.2,779.8 C1054.2,781.1 1044.6,784.6 1039,787.6 C1033.4,790.6 1027.3,794.3 1023.4,798 C1019.5,801.7 1017.1,805.8 1015.6,809.7 C1014.1,813.6 1013.9,817.9 1014.3,821.4 C1014.7,824.9 1016.2,828.2 1018.2,830.5 C1020.2,832.8 1022.5,833.8 1026,835.1 C1029.5,836.4 1034.7,838.6 1039,838.3 C1043.3,838 1048.5,835 1052,833.1 C1055.5,831.2 1058.5,827.7 1059.8,826.6" style="stroke-width:1.4"/>
<path class="th" d="M1072.8,786.3 C1069.3,787.6 1057.6,791.5 1052,794.1 C1046.4,796.7 1042.7,798.6 1039,801.9 C1035.3,805.1 1031.9,809.9 1029.9,813.6 C1028,817.3 1027.1,820.5 1027.3,824 C1027.5,827.5 1029.5,832.1 1031.2,834.4 C1032.9,836.7 1036.6,837.2 1037.7,837.7" style="stroke-width:1.3"/>
<path class="th" d="M1051.5,813 A5.8,6.4 0 1 0 1052.5,822" style="stroke-width:1.4"/>
<path class="th" d="M1057.2,779.8 L1127.4,733 L1132.6,731.7" style="stroke-width:1.4"/>
<path class="th" d="M1072.8,786.3 L1169,753.8" style="stroke-width:1.4"/>
<path class="th" d="M1075.4,783.7 L1167.7,751.9" style="stroke-width:0.9"/>
<path class="th" d="M1061.1,779.8 L1072.8,785" />
<path class="th" d="M1067.6,821.4 L1110.5,811" style="stroke-width:1.4"/>
<path class="th" d="M1074.1,818.8 L1091,785" style="stroke-width:1.2"/>
<path class="th" d="M1078,817.5 L1093.6,785" style="stroke-width:0.9"/>
<path class="th" d="M1093.6,786.3 C1093.2,788.2 1090.1,794.5 1091,798 C1091.9,801.5 1094.9,804.9 1098.8,807.1 C1102.7,809.3 1111.8,810.4 1114.4,811" style="stroke-width:1.2"/>
<path class="th" d="M1093.6,786.3 L1169,774.6" style="stroke-width:1.2"/>
<ellipse class="th" cx="1129.4" cy="800.6" rx="14.0" ry="11.0" transform="rotate(-60.0 1129.4 800.6)" style="stroke-width:1.6"/>
<ellipse class="th" cx="1131.3" cy="798.0" rx="10.5" ry="8.0" transform="rotate(-60.0 1131.3 798.0)" style="stroke-width:1.6"/>
<path class="th" d="M1143,803.2 L1171.6,792.8" style="stroke-width:1.3"/>
<path class="th" d="M1169,774.6 C1169.7,775.9 1172.5,779.4 1172.9,782.4 C1173.3,785.4 1171.8,791.1 1171.6,792.8" style="stroke-width:1.3"/>
<ellipse class="th" cx="1156.0" cy="787.6" rx="4.0" ry="4.5" transform="rotate(-30.0 1156.0 787.6)" />
<path class="th" d="M1130,731.7 C1133.9,730.8 1146.2,728.9 1156,729.1 C1165.8,729.3 1177.7,730.6 1188.5,733 C1199.3,735.4 1211.7,739.7 1221,743.4 C1230.3,747.1 1240.1,752.1 1244.4,755.1 C1248.7,758.1 1247.4,760.1 1247,761.6 C1246.6,763.1 1248.3,764.2 1241.8,764.2 C1235.3,764.2 1220.1,763.3 1208,761.6 C1195.9,759.9 1181.6,758.3 1169,753.8 C1156.4,749.2 1139.1,738 1132.6,734.3 C1126.1,730.6 1126.1,732.6 1130,731.7 Z" style="stroke-width:1.5"/>
<path class="th" d="M1159.9,734.3 C1164.7,734.1 1178.3,734.7 1188.5,736.9 C1198.7,739.1 1212.5,744 1221,747.3 C1229.5,750.5 1237,754.4 1239.2,756.4 C1241.4,758.4 1241.4,759.2 1234,759 C1226.6,758.8 1205.8,757.3 1195,755.1 C1184.2,752.9 1174.8,748.8 1169,746 C1163.2,743.2 1161.4,740.2 1159.9,738.2 C1158.4,736.2 1155.1,734.5 1159.9,734.3 Z" style="stroke-width:1.3"/>
<path class="th" d="M1247,761.6 C1246.1,764.4 1244,773.3 1241.8,778.5 C1239.6,783.7 1236.2,788.5 1234,792.8 C1231.8,797.1 1230.5,800.6 1228.8,804.5 C1227.1,808.4 1226,814 1223.6,816.2 C1221.2,818.4 1221.4,817.9 1214.5,817.5 C1207.6,817.1 1191.8,815.6 1182,813.6 C1172.2,811.6 1160.3,807.1 1156,805.8" style="stroke-width:1.4"/>
<path class="th" d="M1172.9,777.2 C1174.4,778.7 1176.2,784.1 1182,786.3 C1187.8,788.5 1199.3,789.3 1208,790.2 C1216.7,791.1 1229.7,791.3 1234,791.5" style="stroke-width:1.3"/>
<path class="th" d="M1172.9,777.2 C1174.6,778.9 1181.8,784.6 1183.3,787.6 C1184.8,790.6 1184,793.7 1182,795.4 C1180,797.1 1175.9,796.5 1171.6,798 C1167.3,799.5 1158.6,803.4 1156,804.5" style="stroke-width:1.2"/>
<ellipse class="th" cx="1149.5" cy="733.0" rx="4.0" ry="2.4" transform="rotate(0.0 1149.5 733.0)" /><path class="th" d="M1153.5,733 L1153.5,726.5 M1145.5,733 L1145.5,726.5" /><ellipse class="th" cx="1149.5" cy="726.5" rx="4.0" ry="2.4" transform="rotate(0.0 1149.5 726.5)" />
<path class="th" d="M1172.9,757.7 L1189.8,759 L1188.5,764.2 L1172.9,760.3" />
<!-- p_head.HEAD -->
<ellipse class="th" cx="492.0" cy="975.4" rx="151.8" ry="86.4" transform="rotate(-134.3 492.0 975.4)" style="stroke-width:1.4"/>
<ellipse class="th" cx="495.7" cy="971.9" rx="156.4" ry="91.1" transform="rotate(-134.4 495.7 971.9)" style="stroke-width:1.1"/>
<ellipse class="th" cx="499.9" cy="969.8" rx="162.1" ry="95.3" transform="rotate(-134.9 499.9 969.8)" style="stroke-width:1.6"/>
<path class="th" d="M365.9,905.4 C367.4,897.3 369.6,869.2 374.8,856.7 C380,844.2 388.3,837.1 396.9,830.2 C405.5,823.3 419,819.1 426.4,815.4 C433.8,811.7 432.5,809.4 441.1,808 C449.7,806.6 468.2,806.6 478,807.3 C487.8,808 492,809.5 500,812 C508,814.5 516.4,817.3 526.2,822.5 C536,827.7 549.2,836.9 559,843.4 C568.8,849.9 576.5,854.4 585.2,861.8 C594,869.2 603.9,879.9 611.5,888 C619.1,896.1 624,901.7 631.1,910.3 C638.2,918.9 647.4,928.3 654,939.4 C660.6,950.5 666.6,964.1 670.8,977 C675,989.9 678.1,1004.9 679.1,1016.7 C680.1,1028.5 679.1,1038.7 677,1048.1 C674.9,1057.5 669.7,1067.6 666.6,1073.2 C663.5,1078.8 662.6,1078.2 658.2,1081.5 C653.8,1084.8 647.7,1089.2 640,1093 C632.3,1096.8 616.7,1102.2 612,1104" style="stroke-width:1.8"/>
<path class="th" d="M366.5,915 C366.5,910.8 365.1,900.2 366.5,890 C367.9,879.8 371,862.8 374.8,853.8 C378.6,844.8 382.1,842.1 389.5,836 C396.9,829.9 409.6,821.8 419,816.9 C428.4,812 437.1,809.7 445.6,806.6 C454.1,803.5 460.9,801.3 470,798.5 C479.1,795.7 489.5,792.1 500,789.7 C510.5,787.4 523,785 532.8,784.4 C542.6,783.8 549.2,784.4 559,786.4 C568.8,788.4 579.8,791.9 591.8,796.2 C603.8,800.5 618,805.9 631.1,812 C644.2,818.1 659.6,826 670.5,833 C681.4,840 689.7,845.8 696.7,853.9 C703.7,862 709.3,875.5 712.5,881.5 C715.7,887.5 715.4,888.6 716,890" style="stroke-width:1.3"/>
<path class="th" d="M735,946 C735.2,950 735.9,961.7 736,970 C736.1,978.3 737,987.7 735.5,995.8 C734,1003.9 731.4,1011.1 727.2,1018.8 C723,1026.5 721,1032 710.5,1041.8 C700,1051.5 679.1,1067.9 664.5,1077.3 C649.9,1086.7 633.9,1093.2 622.7,1098.2 C611.6,1103.2 608.1,1106 597.6,1107.6 C587.1,1109.2 569.6,1108.5 560,1107.6 C550.4,1106.7 543.3,1102.9 540,1102" style="stroke-width:1.3"/>
<path class="th" d="M585,797.5 C588.3,798.6 597.3,801.1 605,804 C612.7,806.9 622.4,809.8 631.1,814.6 C639.8,819.4 648.6,825.1 657.4,833 C666.1,840.9 676,852.6 683.6,861.8 C691.2,871 698,879.2 703.3,888 C708.5,896.8 712,906.5 715.1,914.3 C718.2,922.1 720,927.7 722,935 C724,942.3 725.6,949.8 727.2,958.2 C728.8,966.6 731.4,975.6 731.4,985.4 C731.4,995.1 727.9,1011.5 727.2,1016.7" style="stroke-width:1.1"/>
<path class="th" d="M585.2,800.2 C590.7,803.2 607.1,811.3 618,818.5 C628.9,825.7 641,834.2 650.8,843.4 C660.6,852.6 669.4,864 677,873.6 C684.6,883.2 690.8,891.7 696.7,901.1 C702.6,910.5 708.6,921 712.5,930 C716.4,939 718.1,945.8 720,955 C721.9,964.2 723.7,975.5 724,985 C724.3,994.5 722.3,1007.5 722,1012" style="stroke-width:1.1"/>
<path class="th" d="M528.9,821.1 L591.8,798.9" style="stroke-width:1.3"/>
<path class="th" d="M631.1,1032.4 C634.2,1032 642.7,1031.6 650,1030 C657.3,1028.4 670.8,1024.2 675,1023" style="stroke-width:1.3"/>
<path class="th" d="M714.7,889.3 C719.2,891.7 735.9,899.7 741.8,903.9 C747.7,908.1 749.2,910.5 750.2,914.3 C751.2,918.1 750.2,922.7 748.1,926.9 C746,931.1 740,935.9 737.6,939.4 C735.2,942.9 734.2,946.4 733.5,947.8" style="stroke-width:1.3"/>
<path class="th" d="M718.8,912.2 C719.8,911.2 722.5,907.2 725,906 C727.5,904.8 732.1,905.1 733.5,904.9" />
<ellipse class="th" cx="730.3" cy="925.8" rx="3" ry="3.5"/>
<!-- p_right.RIGHT -->
<path class="ln" d="M1322.4,825.2 C1319.6,824.3 1311.7,820.4 1305.8,819.6 C1299.9,818.8 1291.9,819.3 1287.3,820.5 C1282.7,821.7 1279.8,824.7 1278,827 C1276.2,829.3 1275.6,831.3 1276.2,834.4 C1276.8,837.5 1281.4,841.8 1281.7,845.5 C1282,849.2 1281.1,851.4 1278,856.6 C1274.9,861.9 1267.8,872.7 1263.2,877 C1258.6,881.3 1254.6,880.6 1250.3,882.5 C1246,884.4 1240.4,885.6 1237.3,888.1 C1234.2,890.6 1232.1,894.2 1231.8,897.3 C1231.5,900.4 1231.5,902.6 1235.5,906.6 C1239.5,910.6 1248.7,917.7 1255.8,921.4 C1262.9,925.1 1266.6,927.3 1278,928.8 C1289.4,930.3 1315.7,929.4 1324.3,930.6 C1332.9,931.8 1326.4,933.1 1329.8,936.2 C1333.2,939.3 1342.1,947 1344.6,949.1" style="stroke-width:1.6"/>
<path class="ln" d="M1322.4,825.2 C1322.8,825.4 1328.9,828.7 1329.8,829.2 C1330.7,829.7 1338.3,834.2 1340.9,835.3 C1343.5,836.4 1379.3,849.9 1381.6,851.1 C1383.9,852.3 1386.7,856 1387.2,858.5 C1387.7,861 1390.7,898.9 1390.9,901" style="stroke-width:1.6"/>
<path class="ln" d="M1344.6,949.1 C1343.7,951.9 1339.4,961.2 1339.1,965.8 C1338.8,970.4 1340.6,974 1342.8,976.9 C1345,979.8 1348.3,982.4 1352,983.3 C1355.7,984.2 1360.7,984.1 1365,982.4 C1369.3,980.7 1374.8,976.9 1377.9,973.2 C1381,969.5 1382.9,963.9 1383.5,960.2 C1384.1,956.5 1383.8,955.9 1381.6,951 C1379.4,946.1 1372.3,934 1370.5,930.6" style="stroke-width:1.5"/>
<path class="th" d="M1346.5,952.8 C1346.2,955.3 1343.7,963 1344.6,967.6 C1345.5,972.2 1350.8,978.4 1352,980.6" />
<path class="th" d="M1350.2,947.3 L1370.5,936.2" />
<path class="ln" d="M1329.8,934.3 C1335,931.5 1351.4,922.6 1361.3,917.7 C1371.2,912.8 1378.2,907.8 1389,904.7 C1399.8,901.6 1418.4,900.1 1426,899.2 C1433.6,898.3 1428.9,898.6 1434.6,899.2 C1440.3,899.8 1455.1,901.7 1460.4,902.9 C1465.7,904.1 1465,904.9 1466.5,906.6 C1468,908.4 1469,911.5 1469.6,913.4 C1470.2,915.2 1470.1,917 1470.2,917.7" style="stroke-width:1.5"/>
<path class="ln" d="M1470.2,917.7 C1470.4,917.9 1470.3,918.5 1471.5,918.9 C1472.7,919.3 1475.5,919.2 1477.6,920.1 C1479.6,921 1482.7,922.9 1483.8,924.4 C1484.9,925.9 1484.6,927.8 1484.4,929.3 C1484.2,930.8 1482.8,932.9 1482.5,933.6" style="stroke-width:1.5"/>
<path class="ln" d="M1478.2,941 C1476,942.3 1469.5,946.9 1465.3,949 C1461.1,951.1 1455,953.1 1453,953.9" style="stroke-width:1.5"/>
<path class="ln" d="M1453,953.9 C1453.1,951.8 1454.1,943.5 1453.6,941 C1453.1,938.5 1451.3,938.7 1450,938.6 C1448.7,938.5 1446.7,939.3 1445.6,940.4 C1444.5,941.5 1443.7,942.5 1443.2,945.3 C1442.7,948.1 1442.7,955 1442.6,957" style="stroke-width:1.5"/>
<path class="ln" d="M1442.6,957 C1441.9,957.2 1440,958.5 1438.3,958.2 C1436.5,957.9 1433.4,956.8 1432.1,955.2 C1430.8,953.6 1430.1,951.5 1430.3,948.4 C1430.5,945.3 1431.9,940.5 1433.4,936.7 C1434.9,932.9 1437.9,928.3 1439.5,925.6 C1441.1,922.9 1443.5,922.2 1443.2,920.7 C1442.9,919.2 1440.2,917.1 1437.7,916.4 C1435.2,915.7 1430,916.4 1428.4,916.4" style="stroke-width:1.5"/>
<path class="ln" d="M1344.6,949.1 C1348.5,945.8 1359.7,934.2 1368,929.3 C1376.3,924.4 1384.8,922 1394.6,919.7 C1404.4,917.4 1419.4,916 1426.6,915.4 C1433.8,914.8 1435.8,916.2 1437.7,916.4" style="stroke-width:1.5"/>
<path class="th" d="M1370,932 C1374.2,930.4 1385.6,924.8 1395,922.5 C1404.4,920.2 1419.4,918.9 1426.6,918.4 C1433.8,917.9 1436.1,919.3 1438,919.5" style="stroke-width:0.9"/>
<path class="th" d="M1438.9,915.2 L1460.4,902.9" style="stroke-width:1.3"/>
<path class="th" d="M1446.9,925 L1467.8,914.6" style="stroke-width:1.3"/>
<path class="th" d="M1330.7,936.7 L1390.3,906.9" />
<path class="th" d="M1447,942 L1447,953 L1452.5,953.5 L1452.5,943 Z" style="fill:#777;stroke-width:0.8"/>
<path class="th" d="M1474.2,931.5 A4.2,4.4 0 1 0 1474.5,937.5" style="stroke-width:1.8"/>
<path class="th" d="M1301.1,829.8 a6.5,6.5 0 1 0 5,-1.5" style="stroke-width:1.6"/>
<path class="th" d="M1255.8,893.6 a6.5,6.5 0 1 0 5,-1.5" style="stroke-width:1.6"/>
<path class="th" d="M1368.7,960.2 a5.5,6 0 1 0 4,-1.5" style="stroke-width:1.6"/>
<path class="ln" d="M1315,902.9 C1316.5,900.3 1338.7,868.4 1340.9,865.9 C1343.1,863.4 1346.8,864.5 1348.3,864.9 C1349.8,865.3 1361.9,869.5 1363.1,871.4 C1364.3,873.3 1367,891.5 1366.8,893.6 C1366.6,895.7 1362.6,902.1 1359.4,902.9 C1356.2,903.7 1321.7,905.6 1318.7,905.6 C1315.7,905.6 1313.5,905.5 1315,902.9 Z" style="stroke-width:1.6"/>
<path class="th" d="M1359.4,871.4 C1360.2,873.9 1363.7,881.6 1364,886.2 C1364.3,890.8 1361.8,897 1361.3,899.2" />
<path class="ln" d="M1315,841.8 L1259.5,921.4" style="stroke-width:2.6"/>
<path class="th" d="M1333.5,834.4 L1270.6,926" style="stroke-width:1.4"/>
<path class="th" d="M1340.9,836.3 L1278,928.8" style="stroke-width:1.4"/>
<ellipse class="th" cx="1470.4" cy="817.8" rx="10.5" ry="8.9" transform="rotate(-15.0 1470.4 817.8)" style="stroke-width:1.8"/><ellipse class="th" cx="1470.4" cy="817.8" rx="7.9" ry="6.5" transform="rotate(-15.0 1470.4 817.8)" style="stroke-width:1"/><circle cx="1470.4" cy="817.8" r="1.8" fill="#222"/>
<ellipse class="th" cx="1426.0" cy="881.6" rx="11.0" ry="9.3" transform="rotate(-15.0 1426.0 881.6)" style="stroke-width:1.8"/><ellipse class="th" cx="1426.0" cy="881.6" rx="8.2" ry="6.8" transform="rotate(-15.0 1426.0 881.6)" style="stroke-width:1"/><circle cx="1426.0" cy="881.6" r="1.8" fill="#222"/>
<ellipse class="th" cx="1266.9" cy="815.9" rx="6.5" ry="5.5" transform="rotate(-15.0 1266.9 815.9)" style="stroke-width:2"/>
<ellipse class="th" cx="1266.9" cy="815.9" rx="3.5" ry="2.8" transform="rotate(-15.0 1266.9 815.9)" style="stroke-width:1.2"/>
<path class="th" d="M1229,872 A6,5.5 0 1 0 1228,880" style="stroke-width:2.2"/>
<path class="th" d="M1226.5,874.5 A3,2.5 0 1 0 1226,879" style="stroke-width:1"/>
<ellipse class="th" cx="1445.5" cy="1005.5" rx="17.0" ry="22.0" transform="rotate(35.0 1445.5 1005.5)" style="stroke-width:1.9"/>
<ellipse class="th" cx="1450.0" cy="1003.5" rx="17.0" ry="22.0" transform="rotate(35.0 1450.0 1003.5)" style="stroke-width:1.6"/>
<ellipse class="th" cx="1454.5" cy="1017.1" rx="2.6" ry="1.8" transform="rotate(35.0 1454.5 1017.1)" style="stroke-width:1.3"/>
<ellipse class="th" cx="1446.9" cy="1019.5" rx="2.6" ry="1.8" transform="rotate(35.0 1446.9 1019.5)" style="stroke-width:1.3"/>
<ellipse class="th" cx="1440.2" cy="1017.6" rx="2.6" ry="1.8" transform="rotate(35.0 1440.2 1017.6)" style="stroke-width:1.3"/>
<ellipse class="th" cx="1436.0" cy="1011.9" rx="2.6" ry="1.8" transform="rotate(35.0 1436.0 1011.9)" style="stroke-width:1.3"/>
<ellipse class="th" cx="1435.7" cy="1003.9" rx="2.6" ry="1.8" transform="rotate(35.0 1435.7 1003.9)" style="stroke-width:1.3"/>
<ellipse class="th" cx="1439.1" cy="995.9" rx="2.6" ry="1.8" transform="rotate(35.0 1439.1 995.9)" style="stroke-width:1.3"/>
<ellipse class="th" cx="1445.5" cy="989.9" rx="2.6" ry="1.8" transform="rotate(35.0 1445.5 989.9)" style="stroke-width:1.3"/>
<ellipse class="th" cx="1453.1" cy="987.5" rx="2.6" ry="1.8" transform="rotate(35.0 1453.1 987.5)" style="stroke-width:1.3"/>
<path class="th" d="M1460,996.5 C1452,993.5 1446,1001.5 1448,1009.5 C1450,1016.5 1457,1017.5 1462,1013.5" style="stroke-width:2.6"/>
<path class="th" d="M1461,995.0 C1466,994.5 1467,999.5 1465,1004.5" style="stroke-width:2.6"/>
<path class="th" d="M1507,1029.5 L1573,1058.5" style="stroke-width:1.5"/>
<path class="th" d="M1507.5,1031.5 L1573,1061" style="stroke-width:0.8"/>
<path class="th" d="M1504,1038 L1568,1068" style="stroke-width:1.4"/>
<path class="th" d="M1507,1029.5 C1502,1030 1500,1036 1504,1038" style="stroke-width:1.4"/>
<path class="th" d="M1570.5,1073.4 L1569.7,1073 L1569.1,1072.4 L1568.6,1071.6 L1568.1,1070.6 L1567.9,1069.5 L1567.7,1068.3 L1567.7,1066.9 L1567.8,1065.5 L1568.1,1064 L1568.4,1062.5 L1568.9,1061 L1569.5,1059.4 L1570.2,1058 L1571,1056.6 L1571.9,1055.3 L1572.8,1054.1 L1573.8,1053 L1574.8,1052.1 L1575.9,1051.4 L1576.9,1050.8 L1577.9,1050.5 L1578.8,1050.3 L1579.7,1050.3 L1580.5,1050.6" style="stroke-width:1.5"/><path class="th" d="M1584.5,1079.4 L1570.5,1073.4 M1594.5,1056.6 L1580.5,1050.6" style="stroke-width:1.5"/><ellipse class="th" cx="1589.5" cy="1068.0" rx="6.5" ry="12.5" transform="rotate(24.0 1589.5 1068.0)" style="stroke-width:1.7"/>
<ellipse class="th" cx="1590.5" cy="1068.0" rx="4.6" ry="9.0" transform="rotate(24.0 1590.5 1068.0)" style="stroke-width:1.1"/>
<ellipse class="th" cx="1591.0" cy="1067.5" rx="2.6" ry="4.4" transform="rotate(24.0 1591.0 1067.5)" style="stroke-width:1.3"/>
<path class="th" d="M1650.4,1081 C1650.9,1075.6 1653.2,1068.4 1656,1064.2 C1658.8,1060 1662.5,1058.1 1667.2,1055.8 C1671.9,1053.5 1676.5,1052.3 1684,1050.2 C1691.5,1048.1 1703.8,1044.5 1712,1043.2 C1720.2,1041.9 1726,1041.8 1733,1042.5 C1740,1043.2 1747,1044.5 1754,1047.4 C1761,1050.3 1769.2,1055.6 1775,1060 C1780.8,1064.4 1785.5,1068.9 1789,1074 C1792.5,1079.1 1795.1,1085 1796,1090.8 C1796.9,1096.6 1796.2,1103.4 1794.6,1109 C1793,1114.6 1789.5,1120.2 1786.2,1124.4 C1782.9,1128.6 1780.4,1131.5 1775,1134.2 C1769.6,1136.9 1762.2,1139.6 1754,1140.5 C1745.8,1141.4 1735.3,1141.1 1726,1139.8 C1716.7,1138.5 1707.3,1136.8 1698,1132.8 C1688.7,1128.8 1677.5,1122.1 1670,1116 C1662.5,1109.9 1656.5,1102.2 1653.2,1096.4 C1649.9,1090.6 1649.9,1086.4 1650.4,1081 Z" style="stroke-width:1.2"/>
<path class="th" d="M1678.4,1052.3 C1681.7,1052.7 1690.1,1052 1698,1054.4 C1705.9,1056.9 1716.7,1061.4 1726,1067 C1735.3,1072.6 1746.5,1081 1754,1088 C1761.5,1095 1767.1,1103.2 1770.8,1109 C1774.5,1114.8 1775.9,1119 1776.4,1123 C1776.9,1127 1774.1,1131.2 1773.6,1132.8" style="stroke-width:1.6"/>
<path class="th" d="M1658.8,1086.6 C1660.2,1085.1 1661.6,1082.9 1665.8,1083.1 C1670,1083.3 1676.3,1084.6 1684,1088 C1691.7,1091.4 1704.5,1098.3 1712,1103.4 C1719.5,1108.5 1726,1115.3 1728.8,1118.8 C1731.6,1122.3 1730.4,1123 1728.8,1124.4 C1727.2,1125.8 1725.3,1128.1 1719,1127.2 C1712.7,1126.3 1699.9,1122.5 1691,1118.8 C1682.1,1115.1 1671.4,1109.2 1665.8,1104.8 C1660.2,1100.4 1658.6,1095.2 1657.4,1092.2 C1656.2,1089.2 1657.4,1088.1 1658.8,1086.6 Z" style="stroke-width:1.2"/>
<path class="th" d="M1678.4,1076.8 L1698,1057.2" style="stroke-dasharray:5 4"/>
<path class="th" d="M1698,1093.6 L1717.6,1065.6" style="stroke-dasharray:5 4"/>
<path class="th" d="M1661.6,1061.4 C1655.5,1058.8 1631.3,1049.5 1625.2,1046 C1619.1,1042.5 1624,1043.4 1625.2,1040.4 C1626.4,1037.4 1629.4,1030.8 1632.2,1027.8 C1635,1024.8 1636.2,1025 1642,1022.2 C1647.8,1019.4 1661.1,1012.6 1667.2,1011 C1673.3,1009.4 1675.4,1011 1678.4,1012.4 C1681.4,1013.8 1684.5,1017.1 1685.4,1019.4 C1686.3,1021.7 1684.2,1025.2 1684,1026.4" style="stroke-width:1.2"/>
<path class="th" d="M1642,1023.6 L1649,1025 L1675.6,1016.6" />
<path class="th" d="M1649,1025 L1649,1022.2" />
<ellipse class="th" cx="1674.9" cy="1024.3" rx="3.0" ry="2.5" transform="rotate(-20.0 1674.9 1024.3)" style="stroke-width:1.5"/>
<path class="th" d="M1675.6,1027.8 L1709.2,1043.2" style="stroke-dasharray:4 3"/>
<path class="th" d="M1812.8,1088.7 L1840.8,1100.6" style="stroke-width:1.2"/>
<path class="th" d="M1810,1096.4 L1836.6,1109" style="stroke-width:1.2"/>
<path class="th" d="M1812.8,1088.7 C1812.3,1089.3 1810.5,1090.9 1810,1092.2 C1809.5,1093.5 1810,1095.7 1810,1096.4" />
<path class="th" d="M1840.8,1099.2 C1840.1,1099.7 1837.5,1100.4 1836.6,1102 C1835.7,1103.6 1834.5,1106.7 1835.2,1109 C1835.9,1111.3 1839.9,1114.8 1840.8,1116" />
<ellipse class="th" cx="1850.0" cy="1108.5" rx="8.5" ry="10.0" transform="rotate(-20.0 1850.0 1108.5)" style="stroke-width:1.3"/>
<ellipse class="th" cx="1851.0" cy="1108.5" rx="6.0" ry="7.5" transform="rotate(-20.0 1851.0 1108.5)" style="stroke-width:1"/>
<ellipse class="th" cx="1851.5" cy="1109.0" rx="2.8" ry="3.2" transform="rotate(-20.0 1851.5 1109.0)" style="stroke-width:1"/>
<path class="da" d="M1796,1085.2 L1810,1092.2" />
<!-- p_lines.LINES -->
<path class="da" d="M232,357.5 L278,379" />
<path class="da" d="M367,420 L418,442" />
<path class="da" d="M441,454 L760,600" />
<path class="da" d="M708.5,288.4 L568.8,496.1 L757,582" />
<path class="da" d="M503.5,565.5 L757,683 L796,701" />
<path class="da" d="M845,724 L880.3,738.7 L629.5,810" />
<path class="da" d="M574,585 L704,646" />
<path class="da" d="M1048,817.5 L1018,802.6 L990,790" />
<path class="da" d="M940,767.5 L919.7,758.4 L757.4,937.8 L730.3,925.8" />
<path class="da" d="M1048,817.5 L1506,1030.5" />
<path class="da" d="M1292.8,834 L1326,832 L1444.5,804.8 L1470.4,817.8" />
<path class="da" d="M1248.4,897.3 L1255.8,901 L1370.5,875.1 L1396.4,869.6 L1426,881.6" />
<path class="da" d="M1470.4,934.3 L1674,1025" />
<path class="da" d="M1230,882.5 L1236,886" />
<path class="ld" d="M305.1,572.5 L401.6,527.3" />
<path class="ld" d="M403,615 L479.3,579.9" />
<path class="ld" d="M614,526.5 L567.7,528.4 L580,576.5" />
<path class="ld" d="M836.1,549.8 L769.2,579.4" />
<path class="ld" d="M558.3,686.8 L643.1,648.2" />
<path class="ld" d="M714.3,760.8 L794.2,726.4" />
<path class="ld" d="M893.8,843.2 L971.3,807.5" />
<path class="ld" d="M1163.3,969.5 L1259.5,926" />
<path class="ld" d="M1237,830.4 L1260.5,819.3" />
<path class="ld" d="M1223.9,851 L1223.6,869.6" />
<path class="ld" d="M1478.5,826.6 L1524.7,882.4 L1438,882.4" />
<path class="ld" d="M1354.5,1059 L1434,1023" />
<path class="ld" d="M1464.7,1109.2 L1560,1065" />
<!-- p_labels.LABELS -->
<text class="lb" transform="translate(467.64,138.00) scale(1.311,1.044)">2</text>
<text class="lb" transform="translate(554.07,176.31) scale(1.235,0.976)">3</text>
<path fill="#111" d="M1074.8,168.9 L1074.8,195.4 L1070.2,195.4 L1070.2,176.6 Q1067.1,177.9 1062,178.7 L1062,175.5 Q1068.6,173.4 1070.8,168.9 Z"/>
<text class="lb" transform="translate(1044.53,395.23) scale(1.194,0.918)">3</text>
<text class="lb" transform="translate(1106.76,418.00) scale(1.299,0.976)">2</text>
<text class="lb" transform="translate(279.12,591.40) scale(1.225,1.036)">4</text>
<text class="lb" transform="translate(378.21,633.50) scale(1.194,0.992)">5</text>
<text class="lb" transform="translate(539.85,540.33) scale(1.361,0.925)">6</text>
<path fill="#111" d="M841.6,528.9 L841.6,555.2 L837,555.2 L837,536.5 Q834.0,537.8 828.9,538.6 L828.9,535.5 Q835.5,533.4 837.6,528.9 Z"/>
<text class="lb" transform="translate(848.41,554.80) scale(1.325,1.008)">0</text>
<text class="lb" transform="translate(530.00,705.60) scale(1.280,0.992)">7</text>
<text class="lb" transform="translate(689.02,780.11) scale(1.237,0.965)">8</text>
<text class="lb" transform="translate(867.22,861.20) scale(1.237,1.012)">8</text>
<path fill="#111" d="M1216.8,823.7 L1216.8,849.1 L1212.7,849.1 L1212.7,831.1 Q1209.6,832.3 1204.5,833.1 L1204.5,830.1 Q1211.1,828.0 1213.3,823.7 Z"/>
<text class="lb" transform="translate(1224.77,848.70) scale(1.241,0.996)">0</text>
<text class="lb" transform="translate(1138.02,988.49) scale(1.283,1.016)">9</text>
<text class="lb" transform="translate(1526.20,892.79) scale(1.277,1.027)">6</text>
<text class="lb" transform="translate(1329.35,1078.10) scale(1.235,1.012)">5</text>
<text class="lb" transform="translate(1439.68,1128.70) scale(1.280,1.056)">4</text>
</svg>
</body></html>
